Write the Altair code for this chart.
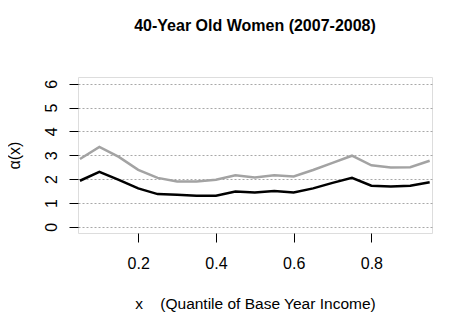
import altair as alt
import pandas as pd

quantile = [0.05, 0.10, 0.15, 0.20, 0.25, 0.30, 0.35, 0.40, 0.45, 0.50,
            0.55, 0.60, 0.65, 0.70, 0.75, 0.80, 0.85, 0.90, 0.95]
black_series = [1.93, 2.30, 1.97, 1.61, 1.37, 1.34, 1.30, 1.30, 1.48, 1.44,
                1.50, 1.44, 1.61, 1.84, 2.05, 1.72, 1.69, 1.72, 1.87]
gray_series = [2.84, 3.35, 2.93, 2.39, 2.05, 1.90, 1.90, 1.97, 2.16, 2.07,
               2.16, 2.11, 2.38, 2.68, 2.98, 2.58, 2.49, 2.50, 2.77]
x_ticks = [0.2, 0.4, 0.6, 0.8]
y_ticks = [0, 1, 2, 3, 4, 5, 6]

rows = []
for q, b, g in zip(quantile, black_series, gray_series):
    rows.append({"x": q, "alpha": g, "series": "gray"})
    rows.append({"x": q, "alpha": b, "series": "black"})
df = pd.DataFrame(rows)

FONT = "Liberation Sans"
NB = "\u00a0"

chart = alt.Chart(df).mark_line(strokeWidth=2.5, clip=True).encode(
    x=alt.X("x:Q",
            scale=alt.Scale(domain=[0.045, 0.956], nice=False, zero=False),
            axis=alt.Axis(values=x_ticks, format=".1f", grid=False, domain=False,
                          tickSize=9, tickColor="black", tickWidth=1,
                          labelFont=FONT, labelFontSize=16, labelColor="black",
                          labelBaseline="alphabetic", labelAlign="center", labelPadding=26,
                          labelFlush=False,
                          title="x" + NB * 4 + "(Quantile of Base Year Income)",
                          titleFont=FONT, titleFontSize=15.5, titleFontWeight="normal",
                          titleColor="black", titleBaseline="alphabetic",
                          titleAlign="center", titleX=177, titleY=75)),
    y=alt.Y("alpha:Q",
            scale=alt.Scale(domain=[-0.26, 6.28], nice=False, zero=False),
            axis=alt.Axis(values=y_ticks, format="d", grid=True, domain=False,
                          gridDash=[2, 2], gridColor="#a8a8a8", gridWidth=1,
                          tickSize=9, tickColor="black", tickWidth=1,
                          labelFont=FONT, labelFontSize=16, labelColor="black",
                          labelAngle=270, labelAlign="center", labelBaseline="alphabetic",
                          labelPadding=13, labelFlush=False,
                          title="α(x)",
                          titleFont=FONT, titleFontSize=16, titleFontWeight="normal",
                          titleColor="black", titleAngle=270, titleAlign="center",
                          titleBaseline="alphabetic", titleX=-59, titleY=78)),
    color=alt.Color("series:N",
                    scale=alt.Scale(domain=["gray", "black"], range=["#a3a3a3", "#000000"]),
                    legend=None),
    detail="series:N",
).properties(
    width=354,
    height=156,
    title=alt.TitleParams("40-Year Old Women (2007-2008)", font=FONT, fontSize=16,
                          fontWeight="bold", color="black", anchor="middle",
                          frame="group", baseline="alphabetic", offset=30),
    autosize=alt.AutoSizeParams(type="none"),
    padding={"left": 70, "top": 69, "right": 28, "bottom": 84},
).configure_view(
    stroke="black", strokeWidth=1
).configure(background="white")

chart.save("out.html", embed_options={"renderer": "svg", "actions": False})
